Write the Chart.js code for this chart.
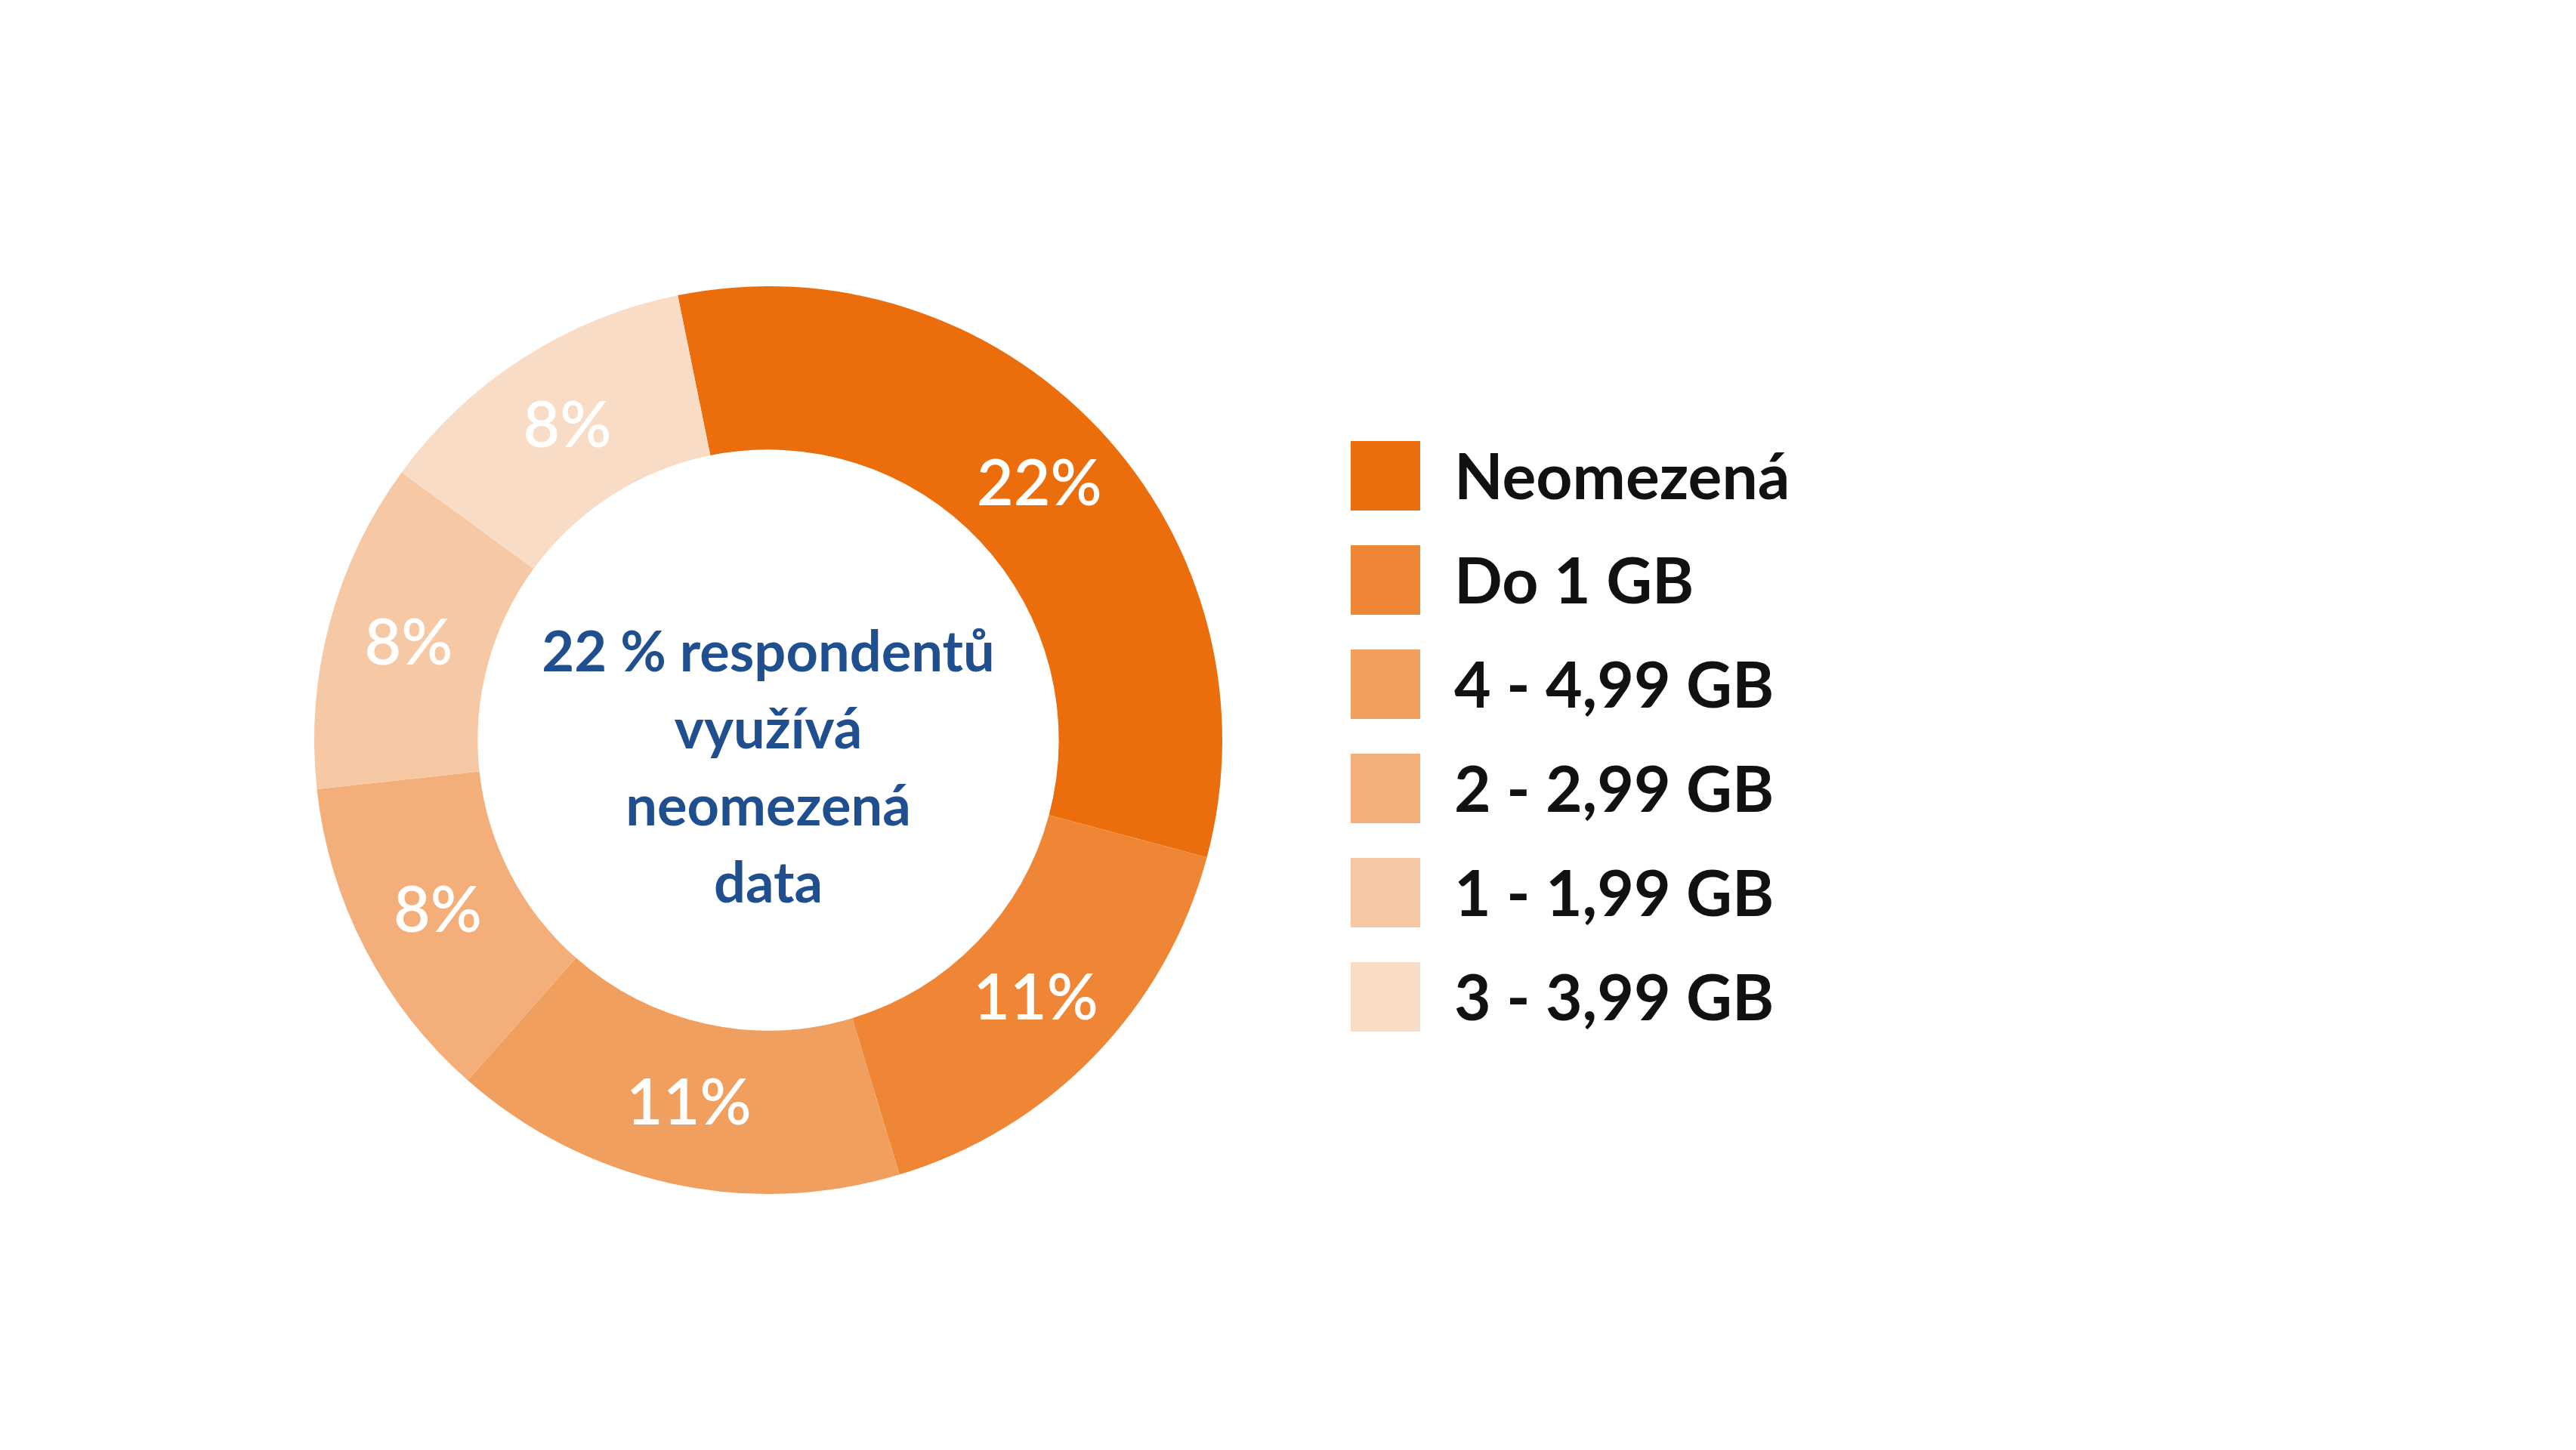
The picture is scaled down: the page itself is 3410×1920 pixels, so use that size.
<!DOCTYPE html>
<html>
<head>
<meta charset="utf-8">
<script src="https://cdn.jsdelivr.net/npm/chart.js@4"></script>
<style>
	body { margin: 0; background: #fff; }
</style>
</head>
<body>
<canvas id="dataChart" width="3410" height="1920"></canvas>
<script>
var categories = ['Neomezená', 'Do 1 GB', '4 - 4,99 GB', '2 - 2,99 GB', '1 - 1,99 GB', '3 - 3,99 GB'];
var shares = [22, 11, 11, 8, 8, 8];
var sliceColors = ['#ec6d0b', '#ef8635', '#f19f5f', '#f3ae7a', '#f6c8a4', '#f9dcc6'];
var centerLines = ['22 % respondentů', 'využívá', 'neomezená', 'data'];

var labelPlugin = {
	id: 'labels',
	afterDatasetsDraw: function(chart) {
		var ctx = chart.ctx;
		var meta = chart.getDatasetMeta(0);
		ctx.save();
		ctx.textAlign = 'center';
		ctx.textBaseline = 'middle';
		ctx.fillStyle = '#ffffff';
		ctx.font = '600 84px Lato, "Noto Sans", sans-serif';
		meta.data.forEach(function(arc, i) {
			var p = arc.tooltipPosition();
			ctx.fillText(shares[i] + '%', p.x, p.y);
		});
		// center text
		var c = meta.data[0];
		ctx.fillStyle = '#1f4f8f';
		ctx.font = 'bold 74px Lato, "Noto Sans", sans-serif';
		centerLines.forEach(function(line, i) {
			ctx.fillText(line, c.x, c.y - 115 + i * 102);
		});
		// legend
		ctx.textAlign = 'left';
		ctx.font = 'bold 84px Lato, "Noto Sans", sans-serif';
		categories.forEach(function(name, i) {
			var y = 630 + i * 138;
			ctx.fillStyle = sliceColors[i];
			ctx.fillRect(1788, y - 46, 92, 92);
			ctx.fillStyle = '#111111';
			ctx.fillText(name, 1925, y + 4);
		});
		ctx.restore();
	}
};

var dataChart = new Chart(document.getElementById('dataChart'), {
	type: 'doughnut',
	data: {
		labels: categories,
		datasets: [{
			data: shares,
			backgroundColor: sliceColors,
			borderWidth: 0
		}]
	},
	options: {
		responsive: false,
		animation: false,
		devicePixelRatio: 1,
		cutout: '64%',
		rotation: -11.5,
		layout: {
			padding: { left: 416, right: 1792, top: 379, bottom: 339 }
		},
		plugins: {
			legend: { display: false },
			tooltip: { enabled: false }
		}
	},
	plugins: [labelPlugin]
});
</script>
</body>
</html>
